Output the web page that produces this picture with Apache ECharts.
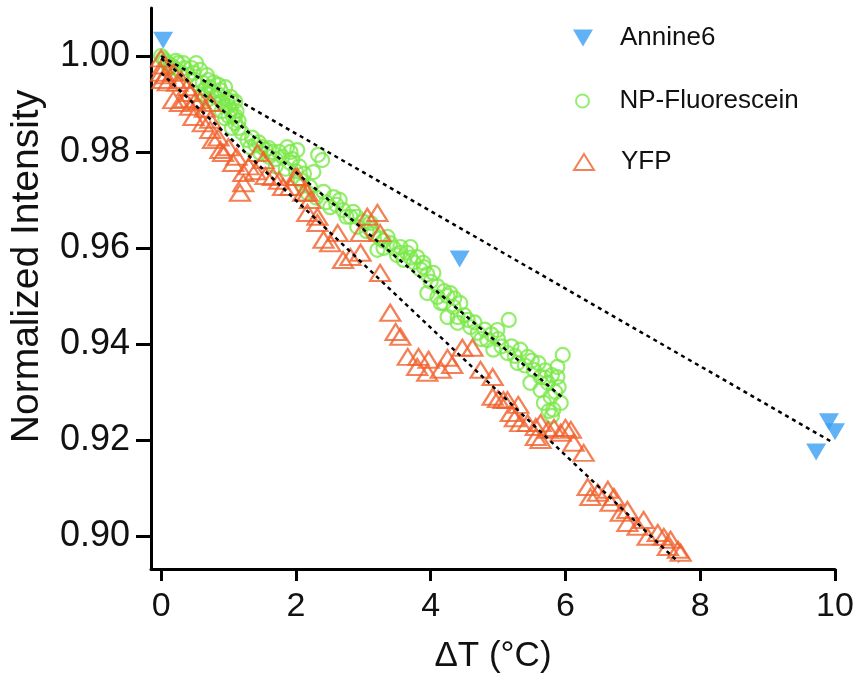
<!DOCTYPE html>
<html>
<head>
<meta charset="utf-8">
<script src="https://cdn.jsdelivr.net/npm/echarts@6/dist/echarts.min.js"></script>
<style>html,body{margin:0;padding:0;background:#fff}#c{width:858px;height:682px}</style>
</head>
<body>
<div id="c"></div>
<script>
const xTicks = [0, 2, 4, 6, 8, 10];
const yTicks = [0.90, 0.92, 0.94, 0.96, 0.98, 1.00];

const annine6 = [[0.03, 1.0033], [4.43, 0.9577], [9.72, 0.9175], [9.91, 0.9238], [10.00, 0.9217]];

const npFluorescein = [
  [0.00,1.000],[0.03,0.9995],[0.06,0.9990],[0.10,0.9985],[0.15,0.9980],[0.20,0.9975],[0.25,0.9985],[0.33,0.9985],
  [0.30,0.9965],[0.40,0.9960],[0.45,0.9975],[0.50,0.9950],[0.58,0.9971],[0.55,0.9940],[0.62,0.9944],[0.65,0.9930],
  [0.70,0.9950],[0.75,0.9925],[0.80,0.9915],[0.85,0.9940],[0.88,0.9929],[0.90,0.9905],[0.95,0.9895],[1.03,0.9915],
  [1.05,0.9905],[1.03,0.9888],[1.07,0.9873],[1.10,0.9860],[1.00,0.9875],[1.15,0.9850],[1.20,0.9840],[1.28,0.9825],
  [1.32,0.9810],[1.40,0.9815],[1.47,0.9798],[1.55,0.9805],[1.60,0.9790],[1.70,0.9785],[1.75,0.9800],[1.87,0.9810],
  [1.92,0.9800],[2.02,0.9804],[1.92,0.9777],[1.85,0.9765],[2.00,0.9760],[2.07,0.9742],[2.10,0.9730],[2.17,0.9715],
  [2.21,0.9727],[2.26,0.9758],[2.33,0.9794],[2.39,0.9783],[2.30,0.9705],[2.41,0.9717],[2.45,0.9695],[2.56,0.9706],
  [2.51,0.9685],[2.60,0.9690],[2.70,0.9679],[2.75,0.9665],[2.81,0.9665],[2.85,0.9675],[2.91,0.9644],[3.00,0.9655],
  [3.11,0.9652],[3.05,0.9635],[3.15,0.9630],[3.21,0.9596],[3.25,0.9620],[3.36,0.9623],[3.40,0.9610],[3.45,0.9600],
  [3.55,0.9602],[3.50,0.9585],[3.60,0.9575],[3.65,0.9590],[3.70,0.9602],[3.75,0.9570],[3.80,0.9581],[3.85,0.9555],
  [3.89,0.9569],[3.95,0.9545],[4.04,0.9548],[4.00,0.9530],[3.95,0.9506],[4.10,0.9498],[4.15,0.9485],[4.19,0.9485],
  [4.25,0.9500],[4.29,0.9506],[4.34,0.9477],[4.25,0.9456],[4.40,0.9456],[4.40,0.9444],[4.44,0.9485],[4.50,0.9460],
  [4.59,0.9435],[4.65,0.9445],[4.70,0.9423],[4.75,0.9410],[4.84,0.9408],[4.90,0.9420],[4.99,0.9429],[5.16,0.9450],
  [4.93,0.9388],[5.05,0.9395],[5.14,0.9381],[5.20,0.9395],[5.33,0.9388],[5.29,0.9360],[5.44,0.9373],[5.40,0.9355],
  [5.53,0.9346],[5.50,0.9365],[5.63,0.9331],[5.48,0.9319],[5.74,0.9319],[5.80,0.9335],[5.88,0.9331],[5.96,0.9377],
  [5.88,0.9352],[5.70,0.9345],[5.63,0.9304],[5.78,0.9290],[5.68,0.9277],[5.82,0.9263],[5.93,0.9277],[5.85,0.9300],
  [5.90,0.9310],[5.80,0.9250],[5.75,0.9260],
  [0.12,0.9975],[0.22,0.9990],[0.35,0.9975],[0.48,0.9965],[0.52,0.9985],[0.68,0.9960],[0.78,0.9945],[0.95,0.9935],
  [1.10,0.9905],[1.12,0.9885],[0.98,0.9910],[0.72,0.9935],[0.60,0.9920],[0.70,0.9910],[0.80,0.9900],[0.90,0.9885],
  [1.00,0.9895],[1.10,0.9875],[1.15,0.9865],[0.85,0.9920],[0.95,0.9870],[1.05,0.9850],
  [1.35,0.9830],[1.45,0.9820],[1.50,0.9810],[1.65,0.9800],[1.80,0.9790],[1.95,0.9785],[2.05,0.9770],[2.12,0.9755],
  [1.70,0.9770],[1.60,0.9808],
  [2.65,0.9700],[2.90,0.9665],[3.10,0.9640],[3.30,0.9615],[3.30,0.9600],[3.55,0.9590],[3.70,0.9580],[3.90,0.9560],
  [4.10,0.9520],[4.20,0.9510],[4.35,0.9495],[4.55,0.9450],[4.80,0.9430],[5.00,0.9410],[5.25,0.9375],[5.60,0.9360],
  [5.70,0.9330]
];

const yfp = [
  [0.00,0.9995],[0.03,0.9980],[0.00,0.9965],[0.02,0.9950],[0.06,0.9960],[0.10,0.9945],[0.18,0.9965],[0.24,0.9944],
  [0.30,0.9950],[0.39,0.9935],[0.18,0.9908],[0.28,0.9902],[0.35,0.9910],[0.43,0.9923],[0.43,0.9894],[0.50,0.9905],
  [0.58,0.9908],[0.73,0.9902],[0.65,0.9890],[0.48,0.9873],[0.62,0.9860],[0.73,0.9867],[0.73,0.9846],[0.77,0.9825],
  [0.85,0.9830],[0.88,0.9804],[0.92,0.9798],[1.00,0.9810],[1.07,0.9777],[1.12,0.9790],[1.22,0.9756],[1.22,0.9735],
  [1.17,0.9715],[1.30,0.9770],[1.43,0.9798],[1.52,0.9783],[1.40,0.9760],[1.55,0.9750],[1.66,0.9748],[1.81,0.9727],
  [1.75,0.9740],[1.92,0.9727],[1.99,0.9748],[2.02,0.9748],[2.11,0.9715],[2.17,0.9715],[2.21,0.9700],[2.17,0.9673],
  [2.32,0.9665],[2.32,0.9652],[2.41,0.9617],[2.51,0.9610],[2.62,0.9631],[2.70,0.9575],[2.81,0.9581],[2.96,0.9590],
  [2.96,0.9631],[3.06,0.9665],[3.21,0.9673],[3.25,0.9631],[3.25,0.9548],[3.40,0.9465],[3.48,0.9425],[3.55,0.9415],
  [3.66,0.9373],[3.82,0.9373],[3.97,0.9367],[3.80,0.9352],[3.95,0.9340],[4.15,0.9346],[4.25,0.9371],[4.32,0.9356],
  [4.47,0.9392],[4.62,0.9392],[4.74,0.9346],[4.92,0.9331],[4.92,0.9290],[5.08,0.9283],[5.30,0.9273],[5.19,0.9256],
  [5.33,0.9235],[5.56,0.9227],[5.63,0.9200],[5.74,0.9221],[5.93,0.9215],[6.08,0.9221],[6.12,0.9194],[6.27,0.9173],
  [5.56,0.9206],[5.63,0.9235],[5.83,0.9225],[6.00,0.9225],[5.00,0.9285],[5.14,0.9283],[5.25,0.9245],[5.44,0.9235],
  [6.33,0.9102],[6.37,0.9081],[6.48,0.9090],[6.63,0.9096],[6.72,0.9081],[6.67,0.9069],[6.82,0.9048],[6.92,0.9054],
  [6.92,0.9027],[7.07,0.9019],[7.16,0.9033],[7.22,0.8998],[7.37,0.9006],[7.46,0.8998],[7.56,0.8992],[7.52,0.8977],
  [7.67,0.8971],[7.71,0.8965]
];

const fitAnnine6 = [[0, 1.0000], [9.95, 0.9196]];
const fitNP = [[0, 0.9995], [5.95, 0.9289]];
const fitYFP = [[0, 0.9965], [7.68, 0.8945]];

const BLUE = '#3a9ff2', GREEN = '#7ae84a', ORANGE = '#f0602c';
const FONT = "'Liberation Sans', Arial, sans-serif";
const DOWN_TRI = 'path://M0,0 L20,0 L10,17 Z';
const UP_TRI = 'path://M10,0 L20,16 L0,16 Z';

const chart = echarts.init(document.getElementById('c'), null, {renderer: 'canvas'});

function fitSeries(d) {
  return {
    type: 'line', data: d, symbol: 'none', silent: true, z: 5,
    lineStyle: {color: '#000', width: 2.5, type: [4, 4]}
  };
}

function legendItem(name, top, h, left) {
  return {
    data: [name], orient: 'vertical', left: left, top: top,
    itemWidth: 64, itemHeight: h, selectedMode: false,
    textStyle: {fontSize: 26, color: '#111', fontFamily: FONT}
  };
}

chart.setOption({
  animation: false,
  backgroundColor: '#fff',
  grid: {left: 151, right: 23, top: 8, bottom: 113, containLabel: false},
  legend: [
    legendItem('Annine6', 20, 17, 568),
    legendItem('NP-Fluorescein', 83, 13, 570),
    legendItem('YFP', 144, 16, 568)
  ],
  xAxis: {
    type: 'value', min: -0.15, max: 10,
    name: 'ΔT (°C)', nameLocation: 'middle', nameGap: 70,
    nameTextStyle: {fontSize: 35, color: '#111', fontFamily: FONT},
    axisLine: {show: true, onZero: false, lineStyle: {color: '#000', width: 3}},
    axisTick: {show: true, customValues: xTicks, length: 12, lineStyle: {color: '#000', width: 3}},
    axisLabel: {customValues: xTicks, fontSize: 34, color: '#111', margin: 21, fontFamily: FONT},
    splitLine: {show: false}
  },
  yAxis: {
    type: 'value', min: 0.8931, max: 1.01,
    name: 'Normalized Intensity', nameLocation: 'middle', nameGap: 104,
    nameTextStyle: {fontSize: 39, color: '#111', fontFamily: FONT, padding: [0, 0, 0, 44]},
    axisLine: {show: true, onZero: false, lineStyle: {color: '#000', width: 3}},
    axisTick: {show: true, customValues: yTicks, length: 15, lineStyle: {color: '#000', width: 3}},
    axisLabel: {customValues: yTicks, fontSize: 36, color: '#111', margin: 21, fontFamily: FONT,
      formatter: v => v.toFixed(2)},
    splitLine: {show: false}
  },
  series: [
    {
      name: 'Annine6', type: 'scatter', data: annine6, symbol: DOWN_TRI, symbolSize: [20, 17],
      itemStyle: {color: BLUE}, z: 3, clip: false
    },
    {
      name: 'NP-Fluorescein', type: 'scatter', data: npFluorescein, symbol: 'circle', symbolSize: 14,
      itemStyle: {color: 'rgba(255,255,255,0)', borderColor: GREEN, borderWidth: 2.2}, z: 2, clip: false
    },
    {
      name: 'YFP', type: 'scatter', data: yfp, symbol: UP_TRI, symbolSize: [20, 16],
      itemStyle: {color: 'rgba(255,255,255,0)', borderColor: ORANGE, borderWidth: 2.2}, z: 2, clip: false
    },
    fitSeries(fitAnnine6),
    fitSeries(fitNP),
    fitSeries(fitYFP)
  ]
});
</script>
</body>
</html>
